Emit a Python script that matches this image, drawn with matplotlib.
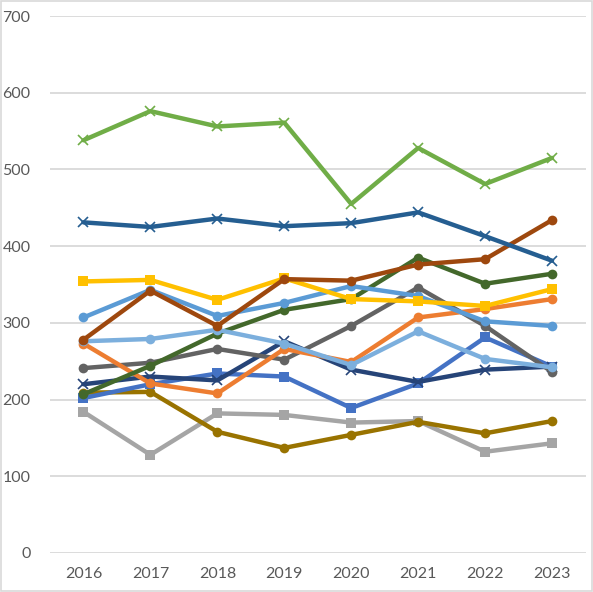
import matplotlib.pyplot as plt
from matplotlib.patches import Rectangle

years = ['2016', '2017', '2018', '2019', '2020', '2021', '2022', '2023']

light_gray = [184, 128, 182, 180, 170, 172, 132, 143]
olive = [209, 210, 158, 137, 154, 171, 156, 172]
royal_blue = [202, 220, 234, 230, 189, 221, 281, 243]
navy = [220, 230, 225, 276, 239, 223, 239, 243]
dark_gray = [241, 248, 266, 252, 296, 346, 296, 236]
orange = [273, 221, 208, 266, 249, 307, 318, 331]
dark_green = [207, 244, 286, 317, 331, 385, 351, 364]
light_blue = [276, 279, 291, 273, 245, 289, 253, 242]
medium_blue = [307, 343, 309, 326, 348, 335, 302, 296]
gold = [354, 356, 330, 358, 331, 328, 322, 344]
brown = [278, 342, 296, 357, 355, 376, 383, 434]
dark_blue = [431, 425, 436, 426, 430, 444, 413, 381]
light_green = [538, 576, 556, 561, 455, 528, 481, 515]

# bottom to top drawing order
series = [
    (light_gray, '#A5A5A5', 's'),
    (olive, '#997300', 'o'),
    (royal_blue, '#4472C4', 's'),
    (navy, '#264478', 'x'),
    (dark_gray, '#636363', 'o'),
    (orange, '#ED7D31', 'o'),
    (dark_green, '#43682B', 'o'),
    (light_blue, '#7CAFDD', 'o'),
    (medium_blue, '#5B9BD5', 'o'),
    (gold, '#FFC000', 's'),
    (brown, '#9E480E', 'o'),
    (dark_blue, '#255E91', 'x'),
    (light_green, '#70AD47', 'x'),
]

plt.rcParams['font.family'] = ['Lato', 'DejaVu Sans']

fig = plt.figure(figsize=(5.93, 5.92), dpi=100)
ax = fig.add_axes([50 / 593, 39 / 592, 535.5 / 593, 537 / 592])

x = list(range(len(years)))
for vals, col, mk in series:
    if mk == 'x':
        ax.plot(x, vals, color=col, linewidth=3.2, marker='x', markersize=7,
                markeredgewidth=1.2, solid_joinstyle='round', solid_capstyle='round')
    else:
        ax.plot(x, vals, color=col, linewidth=3.2, marker=mk, markersize=7,
                markeredgewidth=0, solid_joinstyle='round', solid_capstyle='round')

ax.set_xlim(-0.5, len(years) - 0.5)
ax.set_ylim(0, 700)
ax.set_xticks(x)
ax.set_xticklabels(years)
ax.set_yticks(range(0, 701, 100))
ax.yaxis.grid(True, color='#D9D9D9', linewidth=1.3)
ax.set_axisbelow(True)
for s in ax.spines.values():
    s.set_visible(False)
ax.tick_params(length=0, labelsize=11.5, labelcolor='#595959')
ax.tick_params(axis='y', pad=14)
ax.tick_params(axis='x', pad=10)

fig.patches.append(Rectangle((0.001, 0.001), 0.997, 0.997, transform=fig.transFigure,
                             fill=False, edgecolor='#D9D9D9', linewidth=1.2))

fig.savefig('out.png', dpi=100)
